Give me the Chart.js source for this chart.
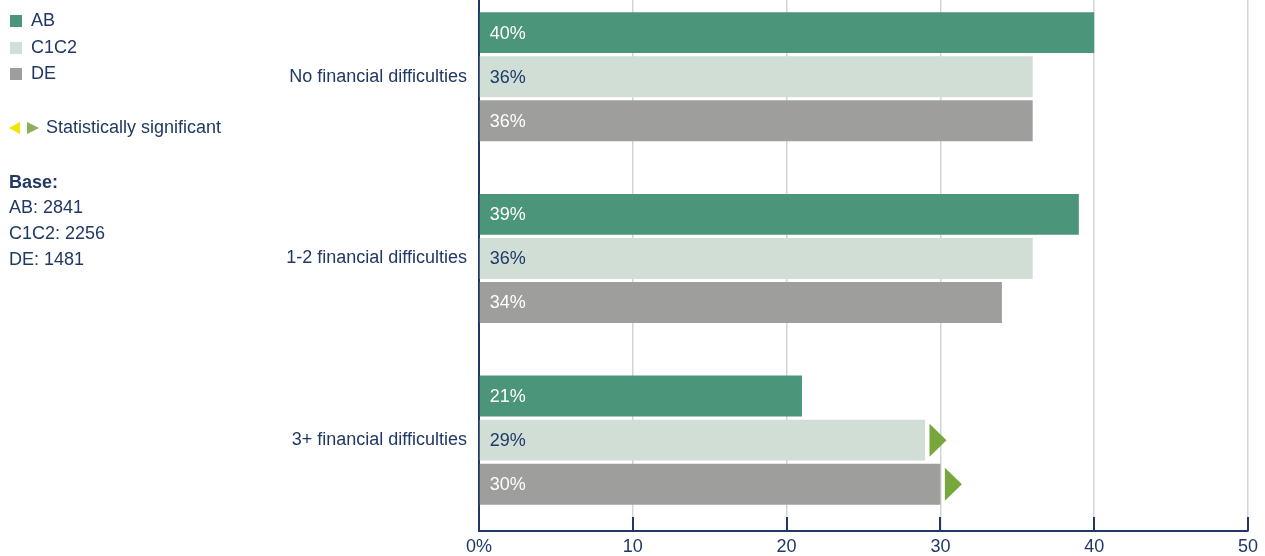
<!DOCTYPE html>
<html><head><meta charset="utf-8">
<script src="https://cdn.jsdelivr.net/npm/chart.js@4/dist/chart.umd.min.js"></script>
<style>
html,body{margin:0;padding:0;background:#fff;width:1265px;height:556px;overflow:hidden;font-family:"Liberation Sans",Arial,sans-serif;color:#1f3864;}
#wrap{position:absolute;left:0;top:-37px;width:1265px;height:593px;}
.row{position:absolute;left:10px;height:26px;line-height:26px;font-size:18px;white-space:nowrap;}
.sw{display:inline-block;width:12px;height:12px;margin-right:9px;vertical-align:-1px;}
.tri{display:inline-block;width:0;height:0;border-top:6.5px solid transparent;border-bottom:6.5px solid transparent;vertical-align:-1px;}
</style></head><body>
<div id="wrap"><canvas id="c" width="1265" height="593"></canvas></div>
<div class="row" style="top:7px"><span class="sw" style="background:#4b957a"></span>AB</div>
<div class="row" style="top:34px"><span class="sw" style="background:#d1ded6"></span>C1C2</div>
<div class="row" style="top:60px"><span class="sw" style="background:#9e9e9d"></span>DE</div>
<div class="row" style="top:114px;left:9px"><span class="tri" style="border-right:11px solid #f2e400;margin-right:7px"></span><span class="tri" style="border-left:12px solid #8db05a;margin-right:7px"></span>Statistically significant</div>
<div class="row" style="top:169px;left:9px;font-weight:bold">Base:</div>
<div class="row" style="top:193.5px;left:9px">AB: 2841</div>
<div class="row" style="top:219.5px;left:9px">C1C2: 2256</div>
<div class="row" style="top:246px;left:9px">DE: 1481</div>
<script>
const categories = ["No financial difficulties", "1-2 financial difficulties", "3+ financial difficulties"];
const seriesNames = ["AB", "C1C2", "DE"];
const abValues = [40, 39, 21];
const c1c2Values = [36, 36, 29];
const deValues = [36, 34, 30];
const abSig = [null, null, null];
const c1c2Sig = [null, null, "up"];
const deSig = [null, null, "up"];
const xTickLabels = ["0%", "10", "20", "30", "40", "50"];

const NAVY = "#1f3864";
const FONT = "'Liberation Sans', Arial, sans-serif";
const colors = ["#4b957a", "#d1ded6", "#9e9e9d"];
const labelColors = ["#ffffff", NAVY, "#ffffff"];
const sigs = [abSig, c1c2Sig, deSig];

const overlay = {
  id: "overlay",
  afterDatasetsDraw(chart) {
    const ctx = chart.ctx;
    ctx.save();
    ctx.font = "18px " + FONT;
    ctx.textBaseline = "middle";
    chart.data.datasets.forEach((ds, di) => {
      const meta = chart.getDatasetMeta(di);
      meta.data.forEach((bar, i) => {
        const v = ds.data[i];
        ctx.fillStyle = labelColors[di];
        ctx.textAlign = "left";
        ctx.fillText(v + "%", bar.base + 10, bar.y + 1);
        if (sigs[di][i] === "up") {
          const x0 = bar.x + 4.5;
          ctx.fillStyle = "#77a63d";
          ctx.beginPath();
          ctx.moveTo(x0, bar.y - 16.5);
          ctx.lineTo(x0 + 17, bar.y);
          ctx.lineTo(x0, bar.y + 16.5);
          ctx.closePath();
          ctx.fill();
        }
      });
    });
    const xs = chart.scales.x;
    const bottom = chart.chartArea.bottom;
    ctx.strokeStyle = NAVY;
    ctx.lineWidth = 2;
    xs.ticks.forEach(t => {
      const px = Math.round(xs.getPixelForValue(t.value));
      ctx.beginPath();
      ctx.moveTo(px, bottom - 14);
      ctx.lineTo(px, bottom);
      ctx.stroke();
    });
    ctx.restore();
  }
};

new Chart(document.getElementById("c"), {
  type: "bar",
  data: {
    labels: categories,
    datasets: [
      { label: seriesNames[0], data: abValues, backgroundColor: colors[0] },
      { label: seriesNames[1], data: c1c2Values, backgroundColor: colors[1] },
      { label: seriesNames[2], data: deValues, backgroundColor: colors[2] }
    ]
  },
  options: {
    indexAxis: "y",
    responsive: false,
    animation: false,
    events: [],
    layout: { padding: { top: 0, right: 17, left: 0, bottom: 0 } },
    datasets: { bar: { categoryPercentage: 0.727, barPercentage: 0.93 } },
    plugins: { legend: { display: false }, tooltip: { enabled: false } },
    scales: {
      x: {
        min: 0, max: 50,
        ticks: { stepSize: 10, color: NAVY, padding: 5,
          font: { family: FONT, size: 18 },
          callback: (v, i) => xTickLabels[i] },
        grid: { color: "#d4d4d4", lineWidth: 1.5, drawTicks: false },
        border: { color: NAVY, width: 2 },
        afterFit: s => { s.height = 25; }
      },
      y: {
        ticks: { color: NAVY, padding: 12,
          font: { family: FONT, size: 18 } },
        grid: { display: false, drawTicks: false },
        border: { color: NAVY, width: 2 },
        afterFit: s => { s.width = 479; }
      }
    }
  },
  plugins: [overlay]
});
</script>
</body></html>
